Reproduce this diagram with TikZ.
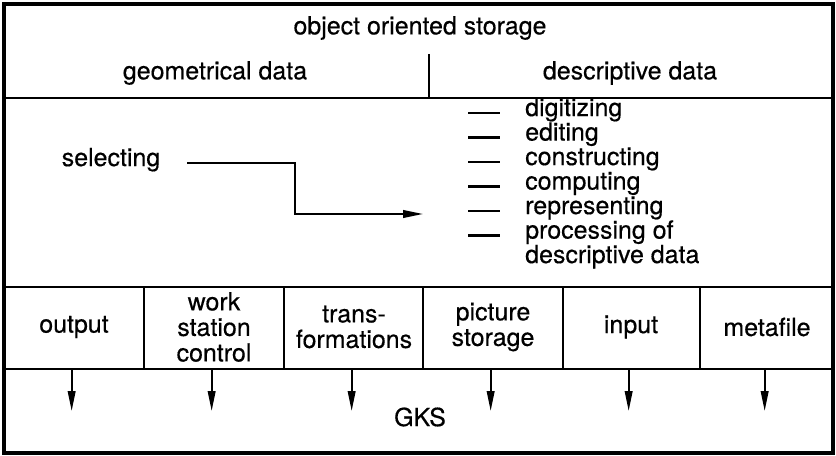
\documentclass[tikz,border=0pt]{standalone}
\usepackage{fontspec}
\setmainfont{TeX Gyre Heros}
\newfontfamily\labelfont{TeX Gyre Heros}[FakeBold=0.4]
\usetikzlibrary{arrows.meta}

\tikzset{
	txt/.style={font=\labelfont\fontsize{21.3}{21.8}\selectfont, inner sep=0pt, align=center},
	xmid/.style={txt, text height=1ex, text depth=0pt},
	item/.style={xmid, anchor=west},
	frame/.style={line width=2.6pt},
	rule/.style={line width=2pt},
	dashmark/.style={line width=2pt},
	arr/.style={line width=1.6pt, -{Triangle[length=17pt,width=6.5pt]}}
}

\begin{document}
\begin{tikzpicture}[x=0.03cm,y=-0.03cm]
	\useasboundingbox (0,0) rectangle (836,456);
	
	% storage header
	\node[txt] (oos) at (420,28) {object oriented storage};
	\node[txt] (geo) at (215,73) {geometrical data};
	\node[txt] (desc) at (630,73) {descriptive data};
	\draw[rule] (429,54) -- (429,98);
	\draw[rule] (4,98) -- (833,98);
	
	% functions on descriptive data
	\node[xmid] (sel) at (111,163) {selecting};
	\foreach \y/\name/\word in {113/dig/digitizing, 137.5/edi/editing, 162/con/constructing,
		186.5/com/computing, 211/rep/representing, 235.5/pro/processing of}{
		\draw[dashmark] (468,\y) -- (500,\y);
		\node[item] (\name) at (525,\y) {\word};
	}
	\node[item] (prodesc) at (525,260) {descriptive data};
	\coordinate (bend) at (295,214);
	\coordinate (tip) at (423,214);
	\draw[arr] ([xshift=0.8cm]sel.east) -| (bend) -- (tip);
	
	% GKS function groups
	\draw[rule] (4,287) -- (833,287);
	\draw[rule] (4,369) -- (833,369);
	\foreach \x in {144,284,423,563,700}
		\draw[rule] (\x,287) -- (\x,369);
	\coordinate (rowbot) at (4,369);
	\foreach \x/\name/\word in {74/out/output, 214/wsc/{work\\station\\control},
		354/trf/{trans-\\formations}, 493/pst/{picture\\storage}, 631/inp/input, 767/mfl/metafile}{
		\node[txt] (\name) at (\x,327) {\word};
		\draw[arr] ([xshift=-2pt]\name |- rowbot) -- ++(0,42);
	}
	\node[txt] (gks) at (420,417) {GKS};
	
	\draw[frame] (4,4) rectangle (833,453);
\end{tikzpicture}
\end{document}
